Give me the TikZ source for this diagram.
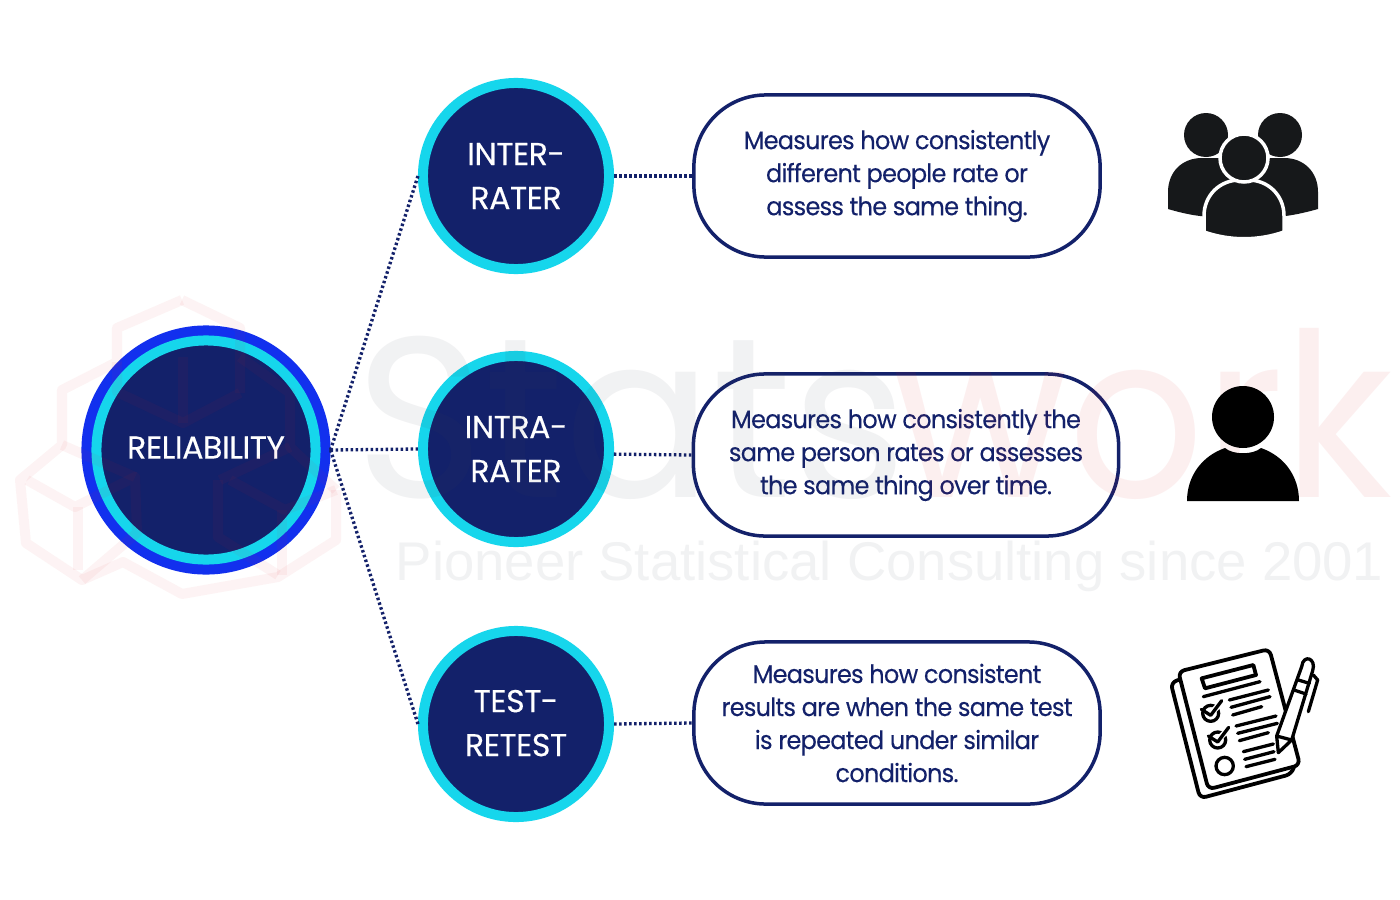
\documentclass[tikz,border=0pt]{standalone}
\usepackage{fontspec}
\setmainfont{Poppins}
\newfontfamily\markfont{Liberation Sans}
\newfontfamily\circlefont[LetterSpace=-1.5, FakeBold=0.25]{Poppins}
\newfontfamily\pillfont[FakeStretch=0.95, LetterSpace=-3, FakeBold=0.2]{Poppins}
\newfontfamily\statsfont[FakeStretch=0.96]{Poppins}
\newfontfamily\workfont[FakeStretch=0.93]{Poppins}
\usetikzlibrary{positioning}

\definecolor{navyfill}{HTML}{13216A}
\definecolor{ringcyan}{HTML}{16D6EC}
\definecolor{ringblue}{HTML}{1230EE}
\definecolor{iconblack}{HTML}{16181A}
\definecolor{markgray}{HTML}{404A55}
\definecolor{markred}{HTML}{E0202A}

\tikzset{
    subcircle/.style={circle, fill=navyfill, draw=ringcyan, line width=0.1cm, minimum size=1.86cm,
        outer sep=0.05cm, text=white, align=center, font=\circlefont\fontsize{9pt}{12.5pt}\selectfont},
    maincircle/.style={subcircle, minimum size=2.19cm,
        preaction={draw=ringblue, line width=0.3cm}, outer sep=0.15cm},
    infopill/.style={rectangle, rounded corners=0.72cm, draw=navyfill, fill=white, line width=0.035cm,
        minimum height=1.62cm, text=navyfill, align=center, font=\pillfont\fontsize{7.2pt}{9.39pt}\selectfont},
    dotline/.style={navyfill, line width=0.033cm, dash pattern=on 0.025cm off 0.025cm},
    iconline/.style={black, line width=0.033cm, line cap=round, line join=round},
    markword/.style={inner sep=0, opacity=0.07, text opacity=0.07}
}

\begin{document}
\begin{tikzpicture}[x=0.01cm, y=-0.01cm]
    \fill[white] (0,0) rectangle (1400,900);
    \useasboundingbox (0,0) rectangle (1400,900);

    % circles
    \node[maincircle] (reliability) at (206,450) {\raisebox{0.05cm}{RELIABILITY}};
    \node[subcircle] (inter) at (516,176) {INTER-\\RATER};
    \node[subcircle] (intra) at (516,449) {INTRA-\\RATER};
    \node[subcircle] (retest) at (516,724) {\raisebox{0.02cm}{TEST-}\\\raisebox{0.02cm}{RETEST}};

    % descriptions
    \node[infopill, minimum width=4.06cm] (interinfo) at (897,176) {Measures how consistently\\different people rate or\\assess the same thing.};
    \node[infopill, minimum width=4.25cm] (intrainfo) at (906,455) {Measures how consistently the\\same person rates or assesses\\the same thing over time.};
    \node[infopill, minimum width=4.06cm] (retestinfo) at (897,723) {Measures how consistent\\results are when the same test\\is repeated under similar\\conditions.};

    % connectors
    \draw[dotline] (reliability.east) -- (inter.west);
    \draw[dotline] (reliability.east) -- (intra.west);
    \draw[dotline] (reliability.east) -- (retest.west);
    \draw[dotline] (inter.east) -- (interinfo.west);
    \draw[dotline] (intra.357) -- (intrainfo.west);
    \draw[dotline] (retest.east) -- (retestinfo.west);

    % watermark goes over the circles, under the icons
    \node[markword, anchor=base west, text=markgray, font=\statsfont\fontsize{65pt}{65pt}\selectfont] (markstats) at (355,497) {Stats};
    \node[markword, anchor=base west, text=markred, font=\workfont\fontsize{65pt}{65pt}\selectfont] (markwork) at (893,497) {work};
    \node[markword, anchor=base west, text=markgray, font=\markfont\fontsize{15.5pt}{15.5pt}\selectfont] (markline) at (395,580) {Pioneer Statistical Consulting since 2001};
    \begin{scope}[markred, opacity=0.05, line width=0.1cm, line join=round]
        % outline of the logo
        \draw (182,300) -- (117,328) -- (117,362) -- (62,390) -- (62,445) -- (20,480) -- (26,543) -- (82,580)
            -- (123,562) -- (182,594) -- (278,577) -- (336,540) -- (336,490);
        % upper cube
        \draw (182,300) -- (240,328) -- (240,393);
        \draw (117,362) -- (117,392) -- (183,423) -- (240,393);
        \draw (183,357) -- (183,423);
        \draw (240,357) -- (290,393) -- (290,447) -- (336,490);
        % lower left cube
        \draw (27,480) -- (75,507) -- (135,477) -- (137,533) -- (82,580);
        \draw (78,507) -- (78,570);
        \draw (62,445) -- (135,477);
        % lower right cube
        \draw (218,480) -- (218,537) -- (278,575);
        \draw (220,480) -- (290,447);
        \draw (230,480) -- (285,510) -- (336,490);
        \draw (282,510) -- (282,575);
    \end{scope}

    % group icon
    \begin{scope}[fill=iconblack]
        \fill (1206,135) circle (22);
        \fill (1280,135) circle (22);
        \fill (1168,209) -- (1168,192) .. controls (1168,172) and (1182,158) .. (1202,158)
            -- (1284,158) .. controls (1304,158) and (1318,172) .. (1318,192) -- (1318,209)
            .. controls (1300,214) and (1285,217) .. (1270,217) -- (1216,217)
            .. controls (1200,217) and (1185,214) .. (1168,209) -- cycle;
        \fill[draw=white, line width=0.035cm] (1204,232) -- (1204,216) .. controls (1204,195) and (1220,180) .. (1240,180)
            -- (1248,180) .. controls (1268,180) and (1284,195) .. (1284,216) -- (1284,232)
            .. controls (1258,241) and (1230,241) .. (1204,232) -- cycle;
        \fill[draw=white, line width=0.035cm] (1244,158) circle (24);
    \end{scope}

    % single person icon
    \fill[black] (1243,417) circle (31);
    \fill[black] (1187,501) .. controls (1187,476) and (1202,456) .. (1225,448)
        .. controls (1233,455) and (1253,455) .. (1261,448)
        .. controls (1284,456) and (1299,476) .. (1299,501) -- cycle;

    % checklist icon, coordinates of the crop
    \begin{scope}[shift={(1150,630)}, x=0.01cm/3, y=-0.01cm/3]
        \draw[iconline, line width=0.038cm, rounded corners=0.06cm] (85,150) -- (62,158) -- (150,505) -- (425,432) -- (432,410);
        \draw[iconline, line width=0.038cm, rounded corners=0.06cm] (85,125) -- (358,57) -- (450,405) -- (175,478) -- cycle;
        \draw[iconline, line width=0.038cm] (155,145) -- (310,105) -- (318,135) -- (165,175) -- cycle;
        \draw[iconline] (160,200) -- (330,155);
        \foreach \xa/\ya/\xb/\yb in {238/210/355/180, 243/232/360/200, 248/255/335/230,
            258/288/378/258, 263/310/382/280, 268/332/355/308,
            280/365/370/342, 284/388/372/365, 288/410/375/388} {
            \draw[iconline] (\xa,\ya) -- (\xb,\yb);
        }
        % the ticks
        \foreach \xc/\yc in {182/250, 203/330} {
            \draw[iconline] (\xc,\yc) circle (24);
            \draw[iconline, white, line width=0.06cm] (\xc+8,\yc-8) -- (\xc+30,\yc-30);
            \draw[iconline] (\xc-28,\yc-12) -- (\xc,\yc+6) -- (\xc+33,\yc-38);
        }
        \draw[iconline] (224,408) circle (26);
        % the pen
        \draw[iconline, fill=white] (385,368) -- (380,318) -- (455,110) .. controls (460,70) and (500,85) .. (488,122) -- (425,330) -- cycle;
        \draw[iconline] (380,318) -- (425,330);
        \draw[iconline] (432,180) -- (468,192);
        \draw[iconline] (445,150) -- (478,160);
        \draw[iconline] (490,135) -- (503,150) -- (475,245);
    \end{scope}
\end{tikzpicture}
\end{document}
